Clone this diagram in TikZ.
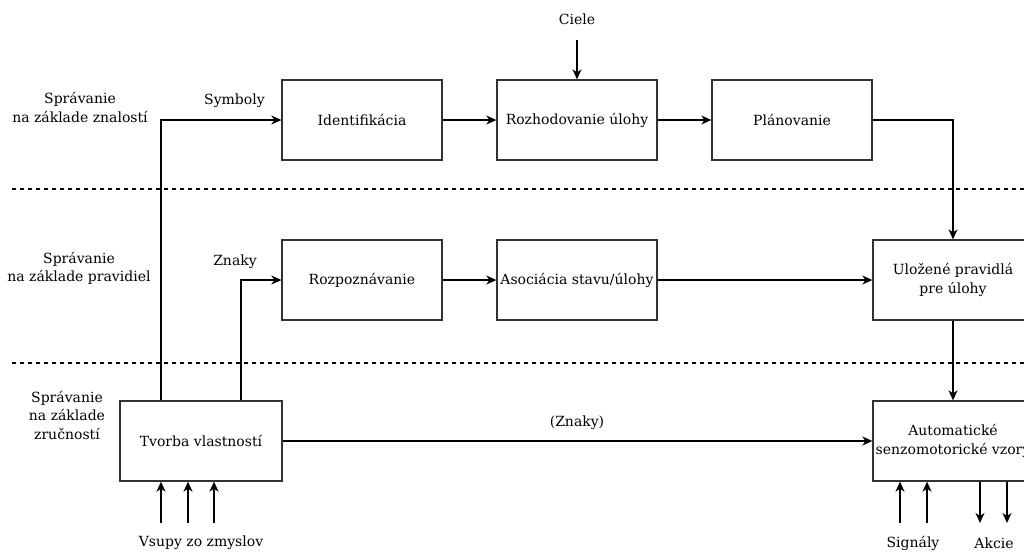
\documentclass[tikz,border=0pt]{standalone}
\usepackage{fontspec}
\setmainfont{DejaVu Serif}
\usetikzlibrary{arrows.meta,calc}
\begin{document}
\begin{tikzpicture}[x=1pt,y=-1pt,
  every node/.style={font=\fontsize{14}{18.5}\selectfont, text=black},
  blok/.style={draw=black!80, line width=1.3pt, minimum width=160pt, minimum height=80pt, inner sep=0pt, align=center, fill=white},
  lbl/.style={align=center, inner sep=0pt},
  arr/.style={draw=black, line width=1.3pt, -{Stealth[length=10pt,width=9pt,inset=3pt]}},
  sep/.style={draw=black, line width=1.2pt, dash pattern=on 4pt off 4pt}]
\useasboundingbox (0,0) rectangle (1024,552);
\clip (0,0) rectangle (1024,552);
\fill[white] (0,0) rectangle (1024,552);
% separators
\draw[sep] (12,189) -- (1024,189);
\draw[sep] (12,363) -- (1024,363);
% boxes
\node[blok] (ident) at (362,120) {Identifikácia};
\node[blok] (rozh) at (577,120) {Rozhodovanie úlohy};
\node[blok] (plan) at (792,120) {Plánovanie};
\node[blok] (rozp) at (362,280) {Rozpoznávanie};
\node[blok] (asoc) at (577,280) {Asociácia stavu/úlohy};
\node[blok] (ulo) at (953,280) {Uložené pravidlá\\pre úlohy};
\node[blok, minimum width=162pt] (tvor) at (201,441) {Tvorba vlastností};
\node[blok] (auto) at (953,441) {Automatické\\senzomotorické vzory};
% left labels
\node[lbl] (l1) at (80,107.5) {Správanie\\na základe znalostí};
\node[lbl] (l2) at (79,268.5) {Správanie\\na základe pravidiel};
\node[lbl] (l3) at (67,415) {Správanie\\na základe\\zručností};
% other labels
\node[lbl] (ciele) at (577,19) {Ciele};
\node[lbl] (symb) at (234.5,100.5) {Symboly};
\node[lbl] (znaky) at (235,261.5) {Znaky};
\node[lbl] (znaky2) at (577,423) {(Znaky)};
\node[lbl] (vstupy) at (201,543) {Vsupy zo zmyslov};
\node[lbl] (sig) at (913,543) {Signály};
\node[lbl] (akc) at (994,543) {Akcie};
% coordinates
\coordinate (cstart) at (577,40);
\coordinate (sx) at (161,0);
\coordinate (zx) at (241,0);
\coordinate (i1) at (161,523);
\coordinate (i2) at (188,523);
\coordinate (i3) at (214,523);
\coordinate (s1) at (900,523);
\coordinate (s2) at (927,523);
\coordinate (a1) at (980,523);
\coordinate (a2) at (1007,523);
% connectors
\draw[arr] (cstart) -- (rozh.north);
\draw[arr] (ident) -- (rozh);
\draw[arr] (rozh) -- (plan);
\draw[arr] (rozp) -- (asoc);
\draw[arr] (asoc) -- (ulo);
\draw[arr] (plan.east) -| (ulo.north);
\draw[arr] (ulo.south) -- (auto.north);
\draw[arr] (tvor.east) -- (auto.west);
\draw[arr] (tvor.north -| sx) |- (ident.west);
\draw[arr] (tvor.north -| zx) |- (rozp.west);
\draw[arr] (i1) -- (i1 |- tvor.south);
\draw[arr] (i2) -- (i2 |- tvor.south);
\draw[arr] (i3) -- (i3 |- tvor.south);
\draw[arr] (s1) -- (s1 |- auto.south);
\draw[arr] (s2) -- (s2 |- auto.south);
\draw[arr] (a1 |- auto.south) -- (a1);
\draw[arr] (a2 |- auto.south) -- (a2);
\end{tikzpicture}
\end{document}
